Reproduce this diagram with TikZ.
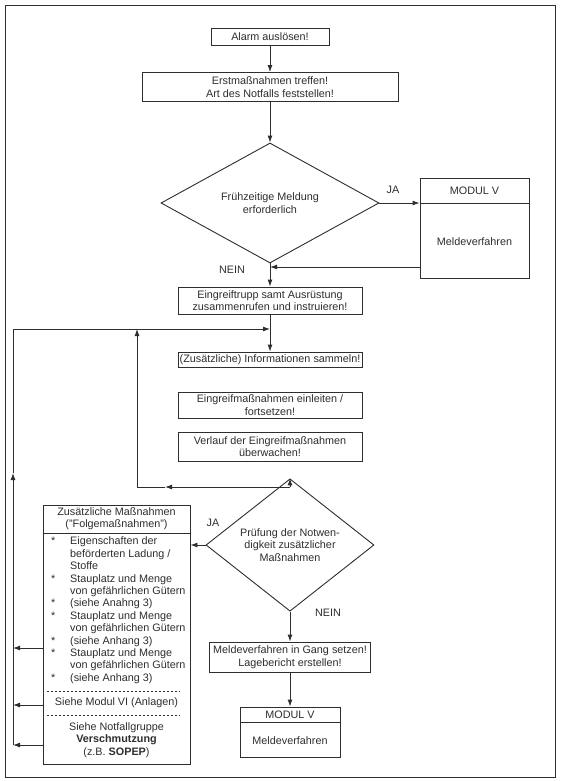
\documentclass[tikz,border=0pt]{standalone}
\usepackage{fontspec}
\setmainfont{Liberation Sans}
\usepackage{xcolor}
\usetikzlibrary{arrows.meta,positioning,shapes.geometric,calc}
\definecolor{ink}{HTML}{2E2E2E}
\newcommand{\boxfont}{\fontsize{10.8}{12.4}\selectfont}
\tikzset{
  box/.style={rectangle, draw=ink, fill=white, line width=0.9pt, align=center,
              inner sep=0pt, text=ink, font=\boxfont},
  decision/.style={diamond, draw=ink, fill=white, line width=0.9pt, align=center,
              inner sep=0pt, text=ink, font=\boxfont},
  lbl/.style={text=ink, font=\boxfont, inner sep=0pt},
  flow/.style={-{Latex[length=7pt,width=5pt]}, draw=ink, line width=0.9pt},
  wire/.style={draw=ink, line width=0.9pt},
  sepline/.style={draw=ink, line width=0.8pt, dash pattern=on 2.5pt off 1.5pt, shorten <=4pt, shorten >=10pt},
}

\begin{document}
\begin{tikzpicture}[x=1pt,y=-1pt]
\useasboundingbox (0,0) rectangle (562,781);
\draw[wire] (5,5) rectangle (555,777);

\node[box, minimum width=118pt, minimum height=17pt] (alarm) at (270,36.5) {Alarm auslösen!};
\node[box, minimum width=256pt, minimum height=29pt] (erst) at (270,87) {Erstmaßnahmen treffen!\\Art des Notfalls feststellen!};
\node[decision, minimum width=218pt, minimum height=120pt] (fruh) at (270,203) {Frühzeitige Meldung\\erforderlich};
\node[box, minimum width=109pt, minimum height=25pt] (modAh) at (474.5,190.5) {MODUL V};
\node[box, minimum width=109pt, minimum height=75pt, below=0pt of modAh] (modAb) {Meldeverfahren};
\node[lbl] (jaA) at (393,190) {JA};
\node[lbl] (neinA) at (232,270) {NEIN};

\node[box, minimum width=184pt, minimum height=27pt] (trupp) at (270,300.5) {Eingreiftrupp samt Ausrüstung\\zusammenrufen und instruieren!};
\node[box, minimum width=184pt, minimum height=15pt] (info) at (270,359.5) {(Zusätzliche) Informationen sammeln!};
\node[box, minimum width=184pt, minimum height=26pt] (einl) at (270,405) {Eingreifmaßnahmen einleiten /\\fortsetzen!};
\node[box, minimum width=184pt, minimum height=29pt] (verl) at (270,446.5) {Verlauf der Eingreifmaßnahmen\\überwachen!};

\node[decision, minimum width=168pt, minimum height=100pt] (pruef) at (290,545) {Prüfung der Notwen-\\digkeit zusätzlicher\\Maßnahmen};
\node[lbl] (jaB) at (213,523) {JA};
\node[lbl] (neinB) at (328,613) {NEIN};
\node[box, minimum width=161pt, minimum height=30pt] (meld) at (290,657) {Meldeverfahren in Gang setzen!\\Lagebericht erstellen!};
\node[box, minimum width=100pt, minimum height=15pt] (modBh) at (290,714.5) {MODUL V};
\node[box, minimum width=100pt, minimum height=35pt, below=0pt of modBh] (modBb) {Meldeverfahren};

\node[box, minimum width=147pt, minimum height=259pt] (zus) at (116.5,634.5) {};
\node[lbl, align=center] (zusHd) at (116.5,519) {Zusätzliche Maßnahmen\\("Folgemaßnahmen")};
\draw[wire] (zus.west |- 0,533) -- (zus.east |- 0,533);
\node[lbl, anchor=north west] (zusList) at (51,536) {%
  \begin{tabular}{@{}p{19pt}@{}l@{}}
  {*} & Eigenschaften der\\
      & beförderten Ladung /\\
      & Stoffe\\
  {*} & Stauplatz und Menge\\
      & von gefährlichen Gütern\\
  {*} & (siehe Anahng 3)\\
  {*} & Stauplatz und Menge\\
      & von gefährlichen Gütern\\
  {*} & (siehe Anhang 3)\\
  {*} & Stauplatz und Menge\\
      & von gefährlichen Gütern\\
  {*} & (siehe Anhang 3)
  \end{tabular}};
\draw[sepline] (zus.west |- 0,691) -- (zus.east |- 0,691);
\node[lbl] (zusMod) at (116.5,703) {Siehe Modul VI (Anlagen)};
\draw[sepline] (zus.west |- 0,715) -- (zus.east |- 0,715);
\node[lbl, align=center] (zusNot) at (116.5,740) {Siehe Notfallgruppe\\\textbf{Verschmutzung}\\(z.B. \textbf{SOPEP})};

\coordinate (loopT) at (13,329);
\coordinate (loopM) at (13,473);
\coordinate (loopB) at (13,745);
\coordinate (innT) at (137,329);
\coordinate (innB) at (137,487);
\coordinate (split) at (290,487);
\coordinate (splitM) at (165,487);

\draw[flow] (alarm) -- (erst);
\draw[flow] (erst) -- (fruh);
\draw[flow] (fruh.east) -- (fruh.east -| modAb.west);
\draw[flow] (modAb.west |- 0,267) -- (fruh.south |- 0,267);
\draw[flow] (fruh) -- (trupp);
\draw[flow] (trupp) -- (info);

\draw[flow] (split) -- (pruef.north);
\draw[flow] (split) -- (splitM);
\draw[flow] (splitM) -- (innB) -- (innT);
\draw[flow] (loopB) -- (loopM);
\draw[flow] (loopM) -- (loopT) -- (trupp.south |- loopT);

\draw[flow] (pruef.west) -- (pruef.west -| zus.east);
\draw[flow] (pruef) -- (meld);
\draw[flow] (meld) -- (modBh);

\draw[flow] (zus.west |- 0,648) -- (loopB |- 0,648);
\draw[flow] (zus.west |- 0,705) -- (loopB |- 0,705);
\draw[flow] (zus.west |- loopB) -- (loopB);
\end{tikzpicture}
\end{document}
